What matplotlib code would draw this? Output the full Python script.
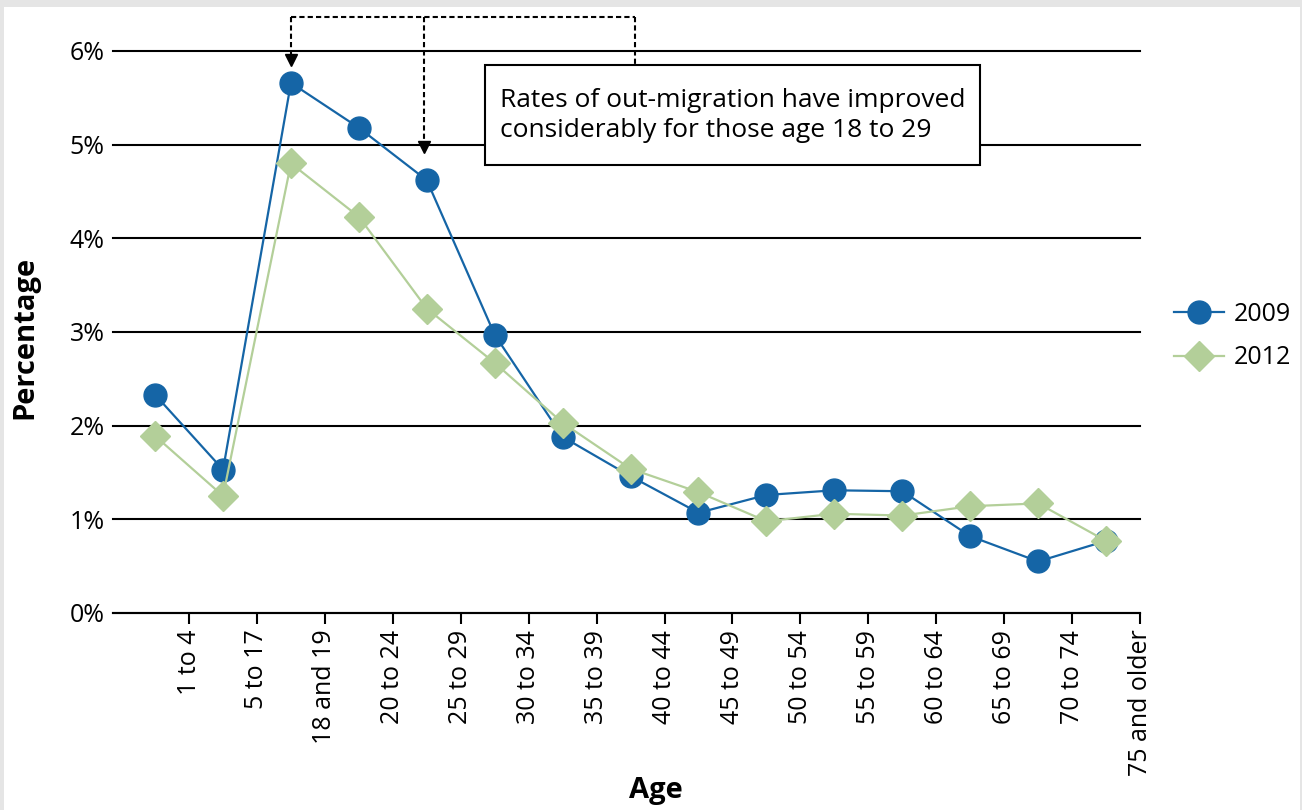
import numpy as np
import matplotlib.pyplot as plt
from matplotlib.patches import Rectangle
from matplotlib.lines import Line2D

plt.rcParams['font.family'] = ['Open Sans', 'DejaVu Sans']

# data
age_groups = ['1 to 4', '5 to 17', '18 and 19', '20 to 24', '25 to 29', '30 to 34',
              '35 to 39', '40 to 44', '45 to 49', '50 to 54', '55 to 59', '60 to 64',
              '65 to 69', '70 to 74', '75 and older']
rate_2009 = [2.33, 1.53, 5.66, 5.18, 4.62, 2.97, 1.88, 1.46, 1.07, 1.26, 1.31, 1.30, 0.82, 0.55, 0.77]
rate_2012 = [1.89, 1.25, 4.80, 4.23, 3.25, 2.67, 2.03, 1.54, 1.29, 0.98, 1.06, 1.04, 1.14, 1.17, 0.77]
note_text = 'Rates of out-migration have improved\nconsiderably for those age 18 to 29'

blue = '#1565a6'
green = '#b3cf99'

fig = plt.figure(figsize=(13.02, 8.10), dpi=100)
fig.patch.set_facecolor('#e5e5e5')
fig.patches.append(Rectangle((4 / 1302, 0), 1296 / 1302, 803 / 810, transform=fig.transFigure,
                             facecolor='white', edgecolor='none', zorder=-10))

ax = fig.add_axes([113 / 1302, 1 - 613 / 810, 1027 / 1302, 562 / 810])
ax.patch.set_alpha(0)

x = np.arange(len(age_groups))
ax.plot(x, rate_2009, color=blue, lw=1.6, marker='o', ms=16.5, label='2009', zorder=3)
ax.plot(x, rate_2012, color=green, lw=1.6, marker='D', ms=15.5, label='2012', zorder=4)

ax.set_xlim(-0.62, 14.45)
ax.set_ylim(0, 6)
ax.set_yticks(range(0, 7))
ax.set_yticklabels([f'{v}%' for v in range(0, 7)])
ax.yaxis.grid(True, color='black', lw=1.5)
for gl in ax.yaxis.get_gridlines():
    gl.set_clip_on(False)
ax.set_axisbelow(True)
ax.tick_params(axis='y', length=0, pad=6, labelsize=18)

ax.set_xticks(x + 0.5)
ax.set_xticklabels(age_groups, rotation=90, fontsize=18)
ax.tick_params(axis='x', length=8, width=1.5, color='black', pad=4)

for s in ['top', 'right', 'left']:
    ax.spines[s].set_visible(False)
ax.spines['bottom'].set_linewidth(1.5)

ax.set_xlabel('Age', fontsize=21, fontweight='bold', va='center')
ax.xaxis.set_label_coords(0.529, -0.315)
ax.set_ylabel('Percentage', fontsize=21, fontweight='bold', va='center')
ax.yaxis.set_label_coords(-0.086, 0.491)

# annotation bracket
top = 6.36
dash = dict(color='black', lw=1.5, ls=(0, (2.5, 1.5)), clip_on=False, zorder=5)
ax.plot([2.0, 7.06], [top, top], **dash)
ax.plot([2.0, 2.0], [top, 5.95], **dash)
ax.plot([3.96, 3.96], [top, 5.02], **dash)
ax.plot([7.06, 7.06], [top, 5.85], **dash)
ax.plot([2.0, 3.96], [5.9, 4.97], ls='none', marker='v', ms=8, color='black', clip_on=False, zorder=5)

ax.add_patch(Rectangle((4.85, 4.78), 7.3, 1.07, facecolor='white', edgecolor='black',
                       lw=1.5, zorder=6, clip_on=False))
ax.text(5.08, 5.315, note_text, fontsize=19, va='center', ha='left', zorder=7, linespacing=1.25)

handles = [Line2D([], [], color=blue, lw=1.6, marker='o', ms=16.5),
           Line2D([], [], color=green, lw=1.6, marker='D', ms=15.5)]
fig.legend(handles, ['2009', '2012'], loc='center left', bbox_to_anchor=(1174 / 1302, 1 - 336 / 810),
           frameon=False, fontsize=18, handlelength=2.0, labelspacing=0.75, handletextpad=0.4,
           borderpad=0, borderaxespad=0)

fig.savefig('out.png', dpi=100)
